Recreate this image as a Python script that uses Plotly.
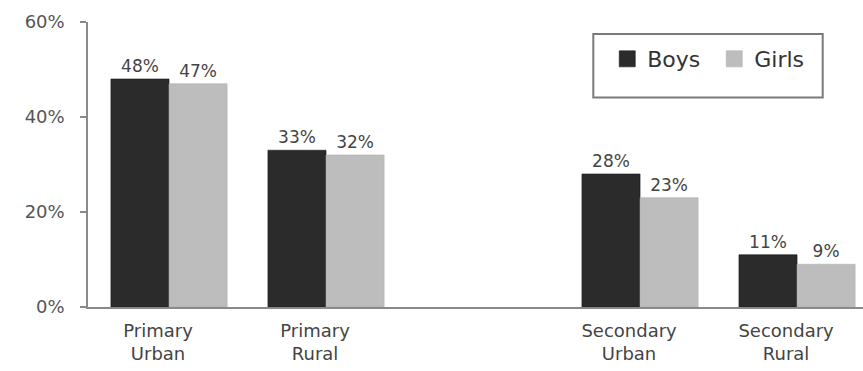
import plotly.graph_objects as go

# Categories (a blank spacer separates the primary and secondary groups)
categories = ["Primary<br>Urban", "Primary<br>Rural", " ", "Secondary<br>Urban", "Secondary<br>Rural"]
series_names = ["Boys", "Girls"]
boys = [48, 33, None, 28, 11]
girls = [47, 32, None, 23, 9]
y_ticks = [0, 20, 40, 60]
y_tick_labels = ["0%", "20%", "40%", "60%"]

FONT = "DejaVu Sans"
COLORS = {"Boys": "#2b2b2b", "Girls": "#bdbdbd"}
EDGES = {"Boys": "#1a1a1a", "Girls": "#b0b0b0"}
BAR_WIDTH = 0.37
# bar pairs sit slightly right of their category label
OFFSETS = {"Boys": -0.30, "Girls": -0.30 + BAR_WIDTH}

fig = go.Figure()
for name, values in zip(series_names, [boys, girls]):
    fig.add_trace(go.Bar(
        name=name, x=categories, y=values, showlegend=False,
        width=BAR_WIDTH, offset=OFFSETS[name],
        marker=dict(color=COLORS[name], line=dict(color=EDGES[name], width=0.6)),
        texttemplate="%{y}%", textposition="outside",
        textfont=dict(family=FONT, size=17, color="#444"),
        cliponaxis=False,
    ))

# Larger square swatches for the legend
for name in series_names:
    fig.add_trace(go.Scatter(
        name=name, x=[None], y=[None], mode="markers",
        marker=dict(symbol="square", size=20, color=COLORS[name],
                    line=dict(color=EDGES[name], width=0.6)),
        showlegend=True,
    ))

fig.update_layout(
    width=863, height=371,
    margin=dict(l=88, r=0, t=22, b=64),
    paper_bgcolor="white", plot_bgcolor="white",
    barmode="overlay",
    font=dict(family=FONT, color="#444"),
    showlegend=True,
    legend=dict(
        orientation="h", x=0.67, y=0.87, xanchor="left", yanchor="middle",
        font=dict(family=FONT, size=22, color="#333"),
        bgcolor="rgba(0,0,0,0)", borderwidth=0, itemsizing="trace",
        itemwidth=30, entrywidth=62, itemclick=False, itemdoubleclick=False,
    ),
    shapes=[dict(
        type="rect", xref="paper", yref="paper",
        x0=0.652, x1=0.948, y0=0.735, y1=0.958,
        line=dict(color="#7a7a7a", width=2), fillcolor="rgba(0,0,0,0)",
    )],
)

fig.update_xaxes(
    type="category", categoryorder="array", categoryarray=categories,
    range=[-0.446, 4.49],
    showline=True, linecolor="#8a8a8a", linewidth=2,
    ticks="", showgrid=False, zeroline=False,
    tickfont=dict(family=FONT, size=18, color="#444"),
    ticklabelstandoff=6,
)
fig.update_yaxes(
    range=[0, 60], tickvals=y_ticks, ticktext=y_tick_labels,
    showline=True, linecolor="#8a8a8a", linewidth=1.5,
    ticks="outside", ticklen=6, tickcolor="#8a8a8a", tickwidth=1.5,
    showgrid=False, zeroline=False,
    tickfont=dict(family=FONT, size=18, color="#555"),
    ticklabelstandoff=12,
)

fig.write_html("out.html")
